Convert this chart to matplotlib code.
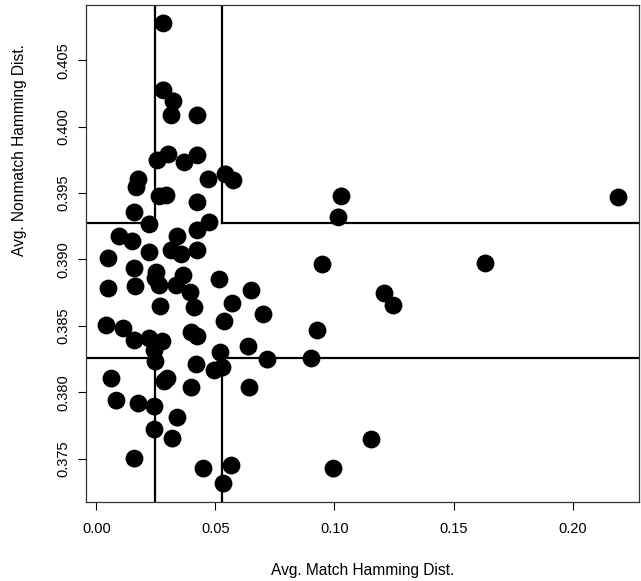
import numpy as np
import matplotlib
matplotlib.use("Agg")
import matplotlib.pyplot as plt

plt.rcParams["font.family"] = ["Liberation Sans", "DejaVu Sans"]

# avg. match / nonmatch hamming distance per subject
match_hd = [
    0.02815, 0.02815, 0.03235, 0.03151, 0.04244, 0.02563, 0.03025, 0.03697,
    0.04244, 0.01765, 0.01681, 0.04706, 0.05420, 0.05756, 0.02647, 0.02941,
    0.04244, 0.01597, 0.02227, 0.04748, 0.04244, 0.00966, 0.01513, 0.03403,
    0.02227, 0.03151, 0.03571, 0.04244, 0.00504, 0.01597, 0.02521, 0.02479,
    0.02647, 0.03655, 0.03361, 0.03950, 0.05168, 0.06513, 0.00504, 0.01639,
    0.02689, 0.04118, 0.05714, 0.07017, 0.05378, 0.00420, 0.01134, 0.01597,
    0.02227, 0.02773, 0.03992, 0.04244, 0.06387, 0.02437, 0.02479, 0.05210,
    0.07185, 0.04202, 0.04958, 0.05294, 0.00630, 0.02857, 0.02983, 0.03992,
    0.06429, 0.00840, 0.01765, 0.02437, 0.03403, 0.02437, 0.03193, 0.01597,
    0.04496, 0.05672, 0.05336,
    0.21933, 0.16345, 0.10294, 0.10168, 0.09496, 0.12101, 0.12479, 0.09286,
    0.09034, 0.11555, 0.09958,
]
nonmatch_hd = [
    0.40778, 0.40274, 0.40191, 0.40085, 0.40085, 0.39746, 0.39791, 0.39731,
    0.39784, 0.39603, 0.39543, 0.39603, 0.39641, 0.39595, 0.39475, 0.39482,
    0.39430, 0.39354, 0.39264, 0.39279, 0.39219, 0.39173, 0.39136, 0.39173,
    0.39053, 0.39068, 0.39038, 0.39068, 0.39008, 0.38932, 0.38902, 0.38857,
    0.38804, 0.38879, 0.38804, 0.38751, 0.38849, 0.38766, 0.38781, 0.38797,
    0.38646, 0.38638, 0.38668, 0.38586, 0.38533, 0.38503, 0.38480, 0.38390,
    0.38405, 0.38382, 0.38450, 0.38420, 0.38344, 0.38314, 0.38231, 0.38299,
    0.38246, 0.38209, 0.38164, 0.38186, 0.38103, 0.38081, 0.38103, 0.38035,
    0.38035, 0.37937, 0.37915, 0.37892, 0.37809, 0.37719, 0.37651, 0.37500,
    0.37425, 0.37448, 0.37312,
    0.39467, 0.38970, 0.39475, 0.39317, 0.38962, 0.38744, 0.38653, 0.38465,
    0.38254, 0.37644, 0.37425,
]

# cut-offs drawn as corner boxes
X_LO, X_HI = 0.0244, 0.0528
Y_LO, Y_HI = 0.3826, 0.39275

x_ticks = [0.00, 0.05, 0.10, 0.15, 0.20]
y_ticks = [0.375, 0.380, 0.385, 0.390, 0.395, 0.400, 0.405]


def r_range(v):
    # R's default 4% axis padding
    lo, hi = min(v), max(v)
    pad = 0.04 * (hi - lo)
    return lo - pad, hi + pad


fig = plt.figure(figsize=(6.41, 5.81), dpi=100)
ax = fig.add_axes([86 / 641, 1 - 502 / 581, (639 - 86) / 641, (502 - 5) / 581])

ax.scatter(match_hd, nonmatch_hd, s=165, c="black", edgecolors="none", zorder=3)

big = 10.0
lw = 1.6
# top-left and top-right boxes
ax.plot([X_LO, X_LO], [Y_HI, big], color="black", lw=lw)
ax.plot([-big, X_LO], [Y_HI, Y_HI], color="black", lw=lw)
ax.plot([X_HI, X_HI], [Y_HI, big], color="black", lw=lw)
ax.plot([X_HI, big], [Y_HI, Y_HI], color="black", lw=lw)
# bottom-left and bottom-right boxes
ax.plot([X_LO, X_LO], [-big, Y_LO], color="black", lw=lw)
ax.plot([-big, X_LO], [Y_LO, Y_LO], color="black", lw=lw)
ax.plot([X_HI, X_HI], [-big, Y_LO], color="black", lw=lw)
ax.plot([X_HI, big], [Y_LO, Y_LO], color="black", lw=lw)

ax.set_xlim(*r_range(match_hd))
ax.set_ylim(*r_range(nonmatch_hd))

ax.set_xticks(x_ticks)
ax.set_xticklabels([f"{t:.2f}" for t in x_ticks])
ax.set_yticks(y_ticks)
ax.set_yticklabels([f"{t:.3f}" for t in y_ticks], rotation=90, va="center")
ax.tick_params(axis="both", length=5.5, width=0.8, labelsize=10.5, colors="black")
ax.tick_params(axis="x", pad=9)
ax.tick_params(axis="y", pad=6)
for sp in ax.spines.values():
    sp.set_linewidth(0.9)
    sp.set_color("#333333")

fig.text(363 / 641, 1 - 570 / 581, "Avg. Match Hamming Dist.", ha="center", va="center", fontsize=11.2)
fig.text(20 / 641, 1 - 150 / 581, "Avg. Nonmatch Hamming Dist.", ha="center", va="center",
         rotation=90, fontsize=11.2)

fig.savefig("out.png", dpi=100)
